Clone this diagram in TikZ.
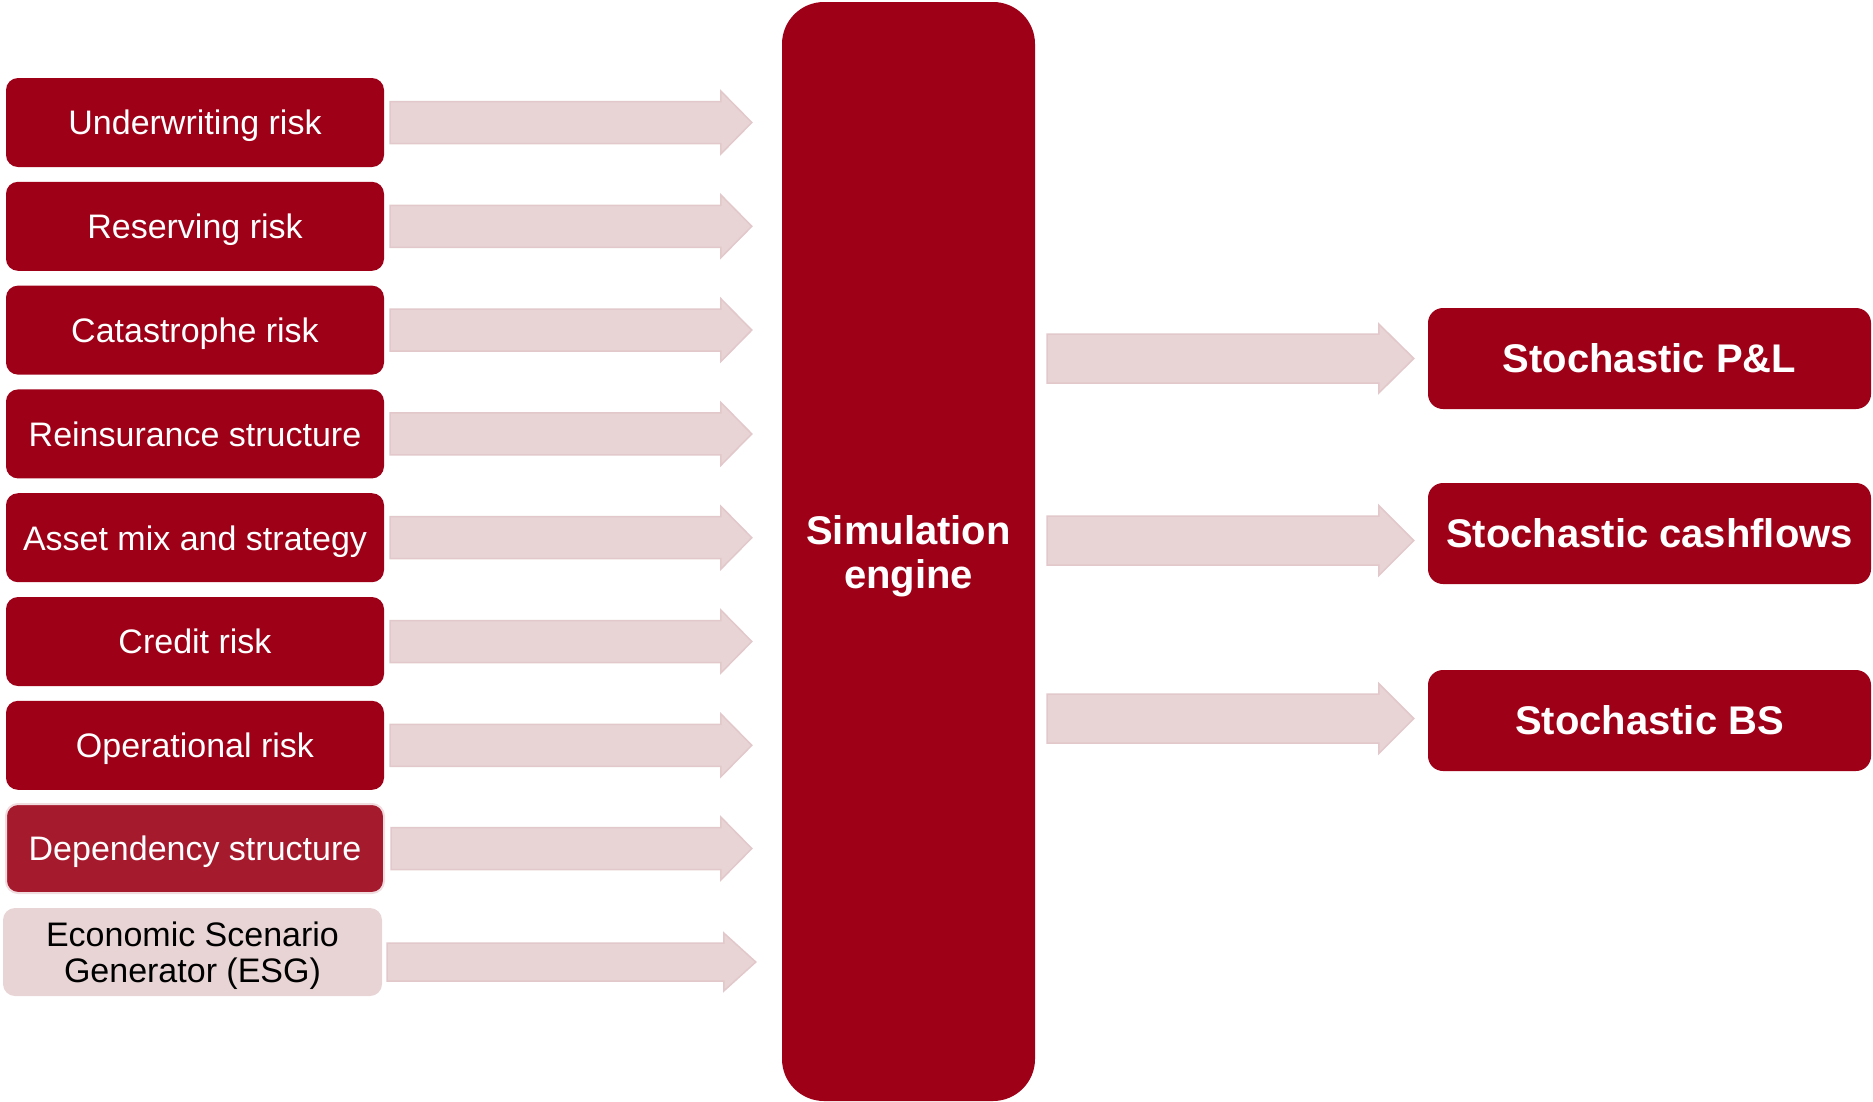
\documentclass[tikz,border=0pt]{standalone}
\usepackage{fontspec}
\setmainfont{Liberation Sans}
\usetikzlibrary{calc}

\definecolor{riskred}{HTML}{9E0018}
\definecolor{deppink}{HTML}{A61A2E}
\definecolor{palepink}{HTML}{E8D4D5}
\definecolor{paleedge}{HTML}{E2C8CA}
\definecolor{depedge}{HTML}{F0DCDE}

% block arrow between two points: #1 start, #2 tip, #3 half body, #4 half head, #5 head length
\newcommand\blockarrow[5]{%
  \draw[flowarrow] let \p1=#1, \p2=#2 in
    (\x1,\y2+#3) -- (\x2-#5,\y2+#3) -- (\x2-#5,\y2+#4) -- (\x2,\y2)
    -- (\x2-#5,\y2-#4) -- (\x2-#5,\y2-#3) -- (\x1,\y2-#3) -- cycle;}

\begin{document}
\begin{tikzpicture}[x=1pt,y=-1pt,
  riskbox/.style={rectangle, rounded corners=12pt, fill=riskred, text=white,
    minimum width=378pt, minimum height=89pt, inner sep=0pt, text depth=0pt,
    font=\fontsize{34}{36}\selectfont},
  outbox/.style={rectangle, rounded corners=15pt, fill=riskred, text=white,
    minimum width=443pt, minimum height=101pt, inner sep=0pt,
    font=\bfseries\fontsize{40}{43}\selectfont},
  flowarrow/.style={fill=palepink, draw=paleedge, line width=1.5pt, line join=miter}]

\useasboundingbox (0,0) rectangle (1873,1101);

% simulation engine
\node[rectangle, rounded corners=42pt, fill=riskred, text=white, align=center,
  minimum width=253pt, minimum height=1099pt, inner sep=0pt, text depth=0pt,
  font=\bfseries\fontsize{40}{44}\selectfont] (eng) at (908.5,551.5)
  {Simulation\\engine};

% risk inputs
\node[riskbox] (r1) at (195,122.5) {Underwriting risk};
\node[riskbox] (r2) at (195,226.3) {Reserving risk};
\node[riskbox] (r3) at (195,330.1) {Catastrophe risk};
\node[riskbox] (r4) at (195,433.9) {Reinsurance structure};
\node[riskbox] (r5) at (195,537.7) {Asset mix and strategy};
\node[riskbox] (r6) at (195,641.5) {Credit risk};
\node[riskbox] (r7) at (195,745.3) {Operational risk};
\node[riskbox, fill=deppink, draw=depedge, line width=2pt] (r8) at (195,848.5) {Dependency structure};
\node[riskbox, fill=palepink, text=black, align=center, minimum width=379pt, minimum height=88pt]
  (r9) at (192.5,952) {Economic Scenario\\Generator (ESG)};

% outputs
\node[outbox] (o1) at (1649.5,358.5) {Stochastic P\&L};
\node[outbox] (o2) at (1649.5,533.5) {Stochastic cashflows};
\node[outbox] (o3) at (1649.5,720.5) {Stochastic BS};

% inputs feeding the engine
\foreach \r in {r1,r2,r3,r4,r5,r6,r7,r8}{
  \blockarrow{($(\r.east)+(6,0)$)}{($(\r.east -| eng.west)+(-30,0)$)}{21pt}{31.5pt}{31pt}
}
\blockarrow{($(r9.east)+(5,10)$)}{($(r9.east -| eng.west)+(-26,10)$)}{19pt}{29pt}{32pt}

% engine to outputs
\blockarrow{($(o1.west -| eng.east)+(12,0)$)}{($(o1.west)+(-14,0)$)}{24.5pt}{34.5pt}{35pt}
\blockarrow{($(o2.west -| eng.east)+(12,7)$)}{($(o2.west)+(-14,7)$)}{24.5pt}{35pt}{35pt}
\blockarrow{($(o3.west -| eng.east)+(12,-2)$)}{($(o3.west)+(-14,-2)$)}{24.5pt}{35pt}{35pt}

\end{tikzpicture}
\end{document}
